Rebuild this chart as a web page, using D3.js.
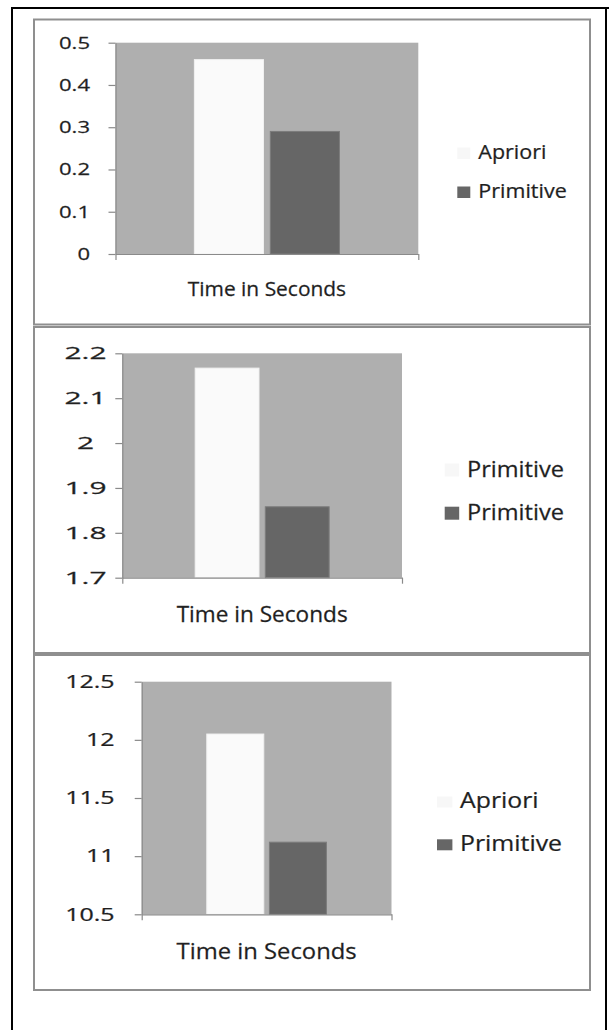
<!DOCTYPE html>
<html>
<head>
<meta charset="utf-8">
<script src="https://cdn.jsdelivr.net/npm/d3@7"></script>
<style>
  html, body { margin: 0; padding: 0; background: #ffffff; }
  svg { display: block; }
  text { font-family: "Open Sans", Lato, sans-serif; fill: #1e1e1e; stroke: #2a2a2a; stroke-width: 0.25px; }
</style>
</head>
<body>
<div id="chart"></div>
<script>
// ---------------- data ----------------
const categories = ["Time in Seconds"];

const series1 = ["Apriori", "Primitive"];
const values1 = [0.46, 0.29];
const ticks1 = [0, 0.1, 0.2, 0.3, 0.4, 0.5];
const tickLabels1 = ["0", "0.1", "0.2", "0.3", "0.4", "0.5"];

const series2 = ["Primitive", "Primitive"];
const values2 = [2.167, 1.858];
const ticks2 = [1.7, 1.8, 1.9, 2.0, 2.1, 2.2];
const tickLabels2 = ["1.7", "1.8", "1.9", "2", "2.1", "2.2"];

const series3 = ["Apriori", "Primitive"];
const values3 = [12.05, 11.12];
const ticks3 = [10.5, 11, 11.5, 12, 12.5];
const tickLabels3 = ["10.5", "11", "11.5", "12", "12.5"];

const seriesColors = ["#fafafa", "#666666"];
const seriesStrokes = ["#f0f0f0", "#7c7c7c"];

// ---------------- layout ----------------
const W = 609, H = 1030;
const panels = [
  { series: series1, values: values1, ticks: ticks1, labels: tickLabels1,
    box: {x: 34, y: 19.5, w: 556, h: 305},
    plot: {l: 115.5, r: 418.3, t: 42.7, b: 254},
    tickX: 90, tickAnchor: "end", tickCap: 12, tickRefW: 31,
    titleCap: 14, titleBase: 295.7, titleW: 158.4, legRefW: 88.4,
    leg: {sx: 457.3, sw: 13, sh: 11.5, sy: [147.5, 186.5], tx: 478.3, base: [159, 198.3]} },
  { series: series2, values: values2, ticks: ticks2, labels: tickLabels2,
    box: {x: 34, y: 327, w: 556, h: 326},
    plot: {l: 122.3, r: 402, t: 353.3, b: 577.7},
    tickX: 85.5, tickAnchor: "middle", tickCap: 12, tickRefW: 42,
    titleCap: 15, titleBase: 621.7, titleW: 171, legRefW: 97,
    leg: {sx: 444.7, sw: 14.5, sh: 13, sy: [463.5, 506.7], tx: 467, base: [476.7, 520]} },
  { series: series3, values: values3, ticks: ticks3, labels: tickLabels3,
    box: {x: 34, y: 655, w: 556, h: 335},
    plot: {l: 141.7, r: 391.5, t: 681.7, b: 914.3},
    tickX: 114.6, tickAnchor: "end", tickCap: 12.5, tickRefW: 49.4,
    titleCap: 15.5, titleBase: 959.3, titleW: 180, legRefW: 102,
    leg: {sx: 437, sw: 15.4, sh: 11, sy: [796.5, 839.3], tx: 460, base: [808.3, 851]} }
];

const CAP = 0.714; // cap-height ratio of the font

const svg = d3.select("#chart").append("svg")
  .attr("width", W).attr("height", H).attr("viewBox", `0 0 ${W} ${H}`);

// outer frame
const frame = svg.append("g").attr("stroke", "#000").attr("stroke-width", 2).attr("fill", "none");
frame.append("line").attr("x1", 11).attr("x2", W).attr("y1", 8).attr("y2", 8);
frame.append("line").attr("x1", 12).attr("x2", 12).attr("y1", 7).attr("y2", H);
frame.append("line").attr("x1", 606).attr("x2", 606).attr("y1", 7).attr("y2", H);

function naturalWidth(str, fs) {
  const t = svg.append("text").attr("font-size", fs).text(str);
  const w = t.node().getComputedTextLength();
  t.remove();
  return w;
}

function stretchedText(g, str, x, y, fs, sx, anchor) {
  return g.append("text")
    .attr("font-size", fs)
    .attr("text-anchor", anchor)
    .attr("transform", `translate(${x},${y}) scale(${sx},1)`)
    .text(str);
}

panels.forEach((p) => {
  const g = svg.append("g");
  // panel box
  g.append("rect")
    .attr("x", p.box.x).attr("y", p.box.y).attr("width", p.box.w).attr("height", p.box.h)
    .attr("fill", "#fff").attr("stroke", "#8f8f8f").attr("stroke-width", 2);

  const y = d3.scaleLinear()
    .domain([p.ticks[0], p.ticks[p.ticks.length - 1]])
    .range([p.plot.b, p.plot.t]);
  const x0 = d3.scaleBand().domain(categories)
    .range([p.plot.l, p.plot.r]).paddingInner(0).paddingOuter(0.544);
  const x1 = d3.scaleBand().domain(d3.range(p.series.length))
    .range([0, x0.bandwidth()]).paddingInner(0.09).paddingOuter(0);

  // plot background
  g.append("rect")
    .attr("x", p.plot.l).attr("y", p.plot.t)
    .attr("width", p.plot.r - p.plot.l).attr("height", p.plot.b - p.plot.t)
    .attr("fill", "#afafaf");

  // bars
  categories.forEach((c) => {
    g.selectAll(null).data(p.values).enter().append("rect")
      .attr("x", (d, i) => x0(c) + x1(i))
      .attr("y", d => y(d))
      .attr("width", x1.bandwidth())
      .attr("height", d => y(p.ticks[0]) - y(d))
      .attr("fill", (d, i) => seriesColors[i])
      .attr("stroke", (d, i) => seriesStrokes[i])
      .attr("stroke-width", 1);
  });

  // y axis
  const yAxis = d3.axisLeft(y).tickValues(p.ticks).tickSize(7).tickSizeOuter(0).tickFormat("");
  const ya = g.append("g").attr("transform", `translate(${p.plot.l},0)`).call(yAxis);
  ya.selectAll("path, line").attr("stroke", "#8a8a8a").attr("stroke-width", 1.2);

  // x axis
  const xEdge = d3.scaleLinear().domain([0, 1]).range([p.plot.l, p.plot.r]);
  const xAxis = d3.axisBottom(xEdge).tickValues([0, 1]).tickSize(6).tickSizeOuter(0).tickFormat("");
  const xa = g.append("g").attr("transform", `translate(0,${p.plot.b})`).call(xAxis);
  xa.selectAll("path, line").attr("stroke", "#8a8a8a").attr("stroke-width", 1.2);

  // category label
  const titleFs = p.titleCap / CAP;
  const sxTitle = p.titleW / naturalWidth(categories[0], titleFs);
  categories.forEach((c) => {
    stretchedText(g, c, x0(c) + x0.bandwidth() / 2, p.titleBase, titleFs, sxTitle, "middle");
  });

  // tick labels
  const tickFs = p.tickCap / CAP;
  const refLabel = p.labels[p.labels.length - 1];
  const sxTick = p.tickRefW / naturalWidth(refLabel, tickFs);
  p.ticks.forEach((t, i) => {
    stretchedText(g, p.labels[i], p.tickX, y(t) + p.tickCap / 2, tickFs, sxTick, p.tickAnchor);
  });

  // legend
  const sxLeg = p.legRefW / naturalWidth("Primitive", titleFs);
  p.series.forEach((s, i) => {
    g.append("rect")
      .attr("x", p.leg.sx).attr("y", p.leg.sy[i])
      .attr("width", p.leg.sw).attr("height", p.leg.sh)
      .attr("fill", i === 0 ? "#f7f7f7" : "#666666");
    stretchedText(g, s, p.leg.tx, p.leg.base[i], titleFs, sxLeg, "start");
  });
});
</script>
</body>
</html>
